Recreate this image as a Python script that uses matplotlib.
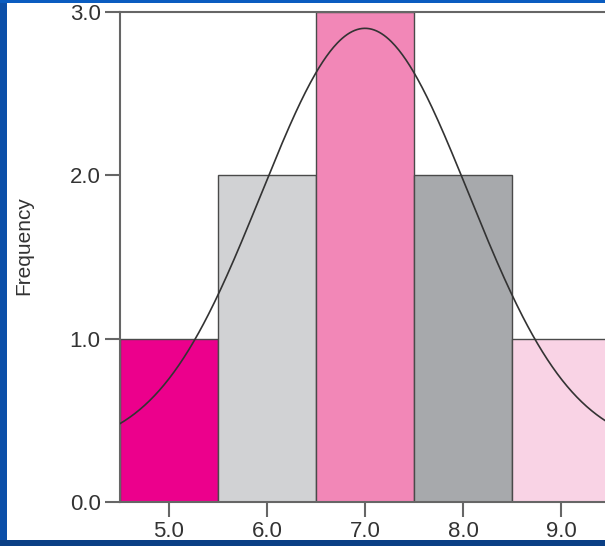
import numpy as np
import matplotlib
matplotlib.use("Agg")
import matplotlib.pyplot as plt
from matplotlib.patches import Rectangle

plt.rcParams['font.family'] = ['Liberation Sans', 'DejaVu Sans']

# histogram data
bin_centers = [5.0, 6.0, 7.0, 8.0, 9.0]
frequencies = [1, 2, 3, 2, 1]
bar_colors = ['#ec008c', '#d1d2d4', '#f287b7', '#a7a9ac', '#f9d3e5']
x_ticks = [5.0, 6.0, 7.0, 8.0, 9.0]
y_ticks = [0.0, 1.0, 2.0, 3.0]

# fitted bell curve: baseline + gaussian bump
curve_center = 7.0
curve_base = 0.32
curve_height = 2.58
curve_sd = 1.06

fig = plt.figure(figsize=(6.05, 5.46), dpi=100)
fig.patch.set_facecolor('white')

# slide background strips
fig.add_artist(Rectangle((0, 0), 7 / 605, 1, transform=fig.transFigure,
                         facecolor='#0b4fa8', edgecolor='none', zorder=0))
fig.add_artist(Rectangle((0, 1 - 3 / 546), 1, 3 / 546, transform=fig.transFigure,
                         facecolor='#0a5cc0', edgecolor='none', zorder=0))
fig.add_artist(Rectangle((0, 0), 1, 6 / 546, transform=fig.transFigure,
                         facecolor='#0b3f85', edgecolor='none', zorder=0))

ax = fig.add_axes([120 / 605, 44 / 546, 490 / 605, 490 / 546])
ax.set_facecolor('white')

ax.bar(bin_centers, frequencies, width=1.0, color=bar_colors,
       edgecolor='#4a4a4a', linewidth=1.0, zorder=2)

xs = np.linspace(4.5, 9.5, 400)
ys = curve_base + curve_height * np.exp(-0.5 * ((xs - curve_center) / curve_sd) ** 2)
ax.plot(xs, ys, color='#333333', linewidth=1.2, zorder=3)

ax.set_xlim(4.5, 9.5)
ax.set_ylim(0, 3.0)
ax.set_xticks(x_ticks)
ax.set_xticklabels([f"{v:.1f}" for v in x_ticks])
ax.set_yticks(y_ticks)
ax.set_yticklabels([f"{v:.1f}" for v in y_ticks])

for side in ['left', 'top', 'bottom']:
    ax.spines[side].set_color('#666666')
    ax.spines[side].set_linewidth(1.5)
ax.spines['right'].set_visible(False)

ax.tick_params(axis='both', direction='out', length=11, width=1.5,
               color='#666666', labelsize=16, labelcolor='#333333', pad=3)

ax.set_ylabel('Frequency', fontsize=15, color='#333333')
ax.yaxis.set_label_coords(-0.178, 0.524)

fig.savefig('out.png', dpi=100)
